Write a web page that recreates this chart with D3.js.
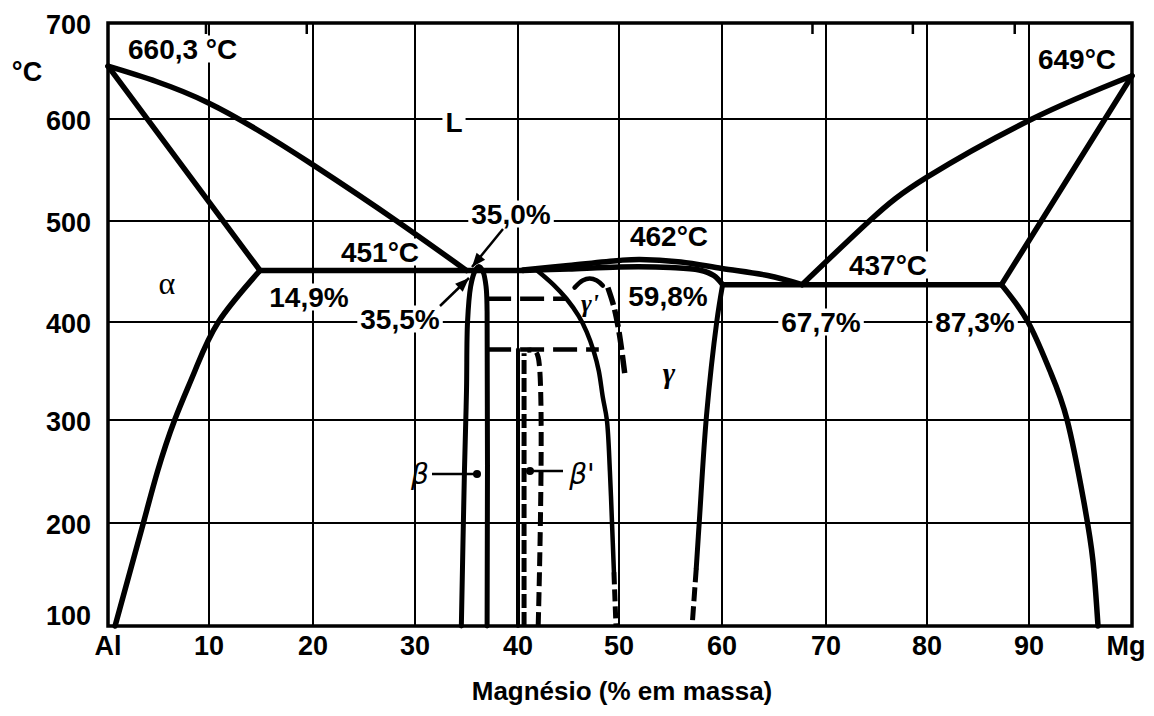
<!DOCTYPE html>
<html><head><meta charset="utf-8">
<script src="https://cdnjs.cloudflare.com/ajax/libs/d3/7.8.5/d3.min.js"></script>
<style>body{margin:0;background:#fff}svg{display:block}</style>
</head><body>
<script>
// ---- data (Mg wt%, °C) ----
const xTickValues = [0,10,20,30,40,50,60,70,80,90,100];
const xTickLabels = ["Al","10","20","30","40","50","60","70","80","90","Mg"];
const yTickValues = [100,200,300,400,500,600,700];
const yTickLabels = ["100","200","300","400","500","600","700"];
const topMarks = [9.7,19.4,68.7,78.6,88.6];

const liquidusAl = [[0,655],[9.9,617],[20,555],[28.2,500],[35,451]];
const solidusAl = [[0,655],[14.9,451]];
const solvusAl = [[14.9,451],[10.9,400],[8.6,350],[6.6,300],[4.9,250],[3.5,200],[0.7,100]];
const eutecticAl = [[14.9,451],[40.5,451]];
const betaPhase = [[34.5,100],[34.8,250],[35.0,330],[35.1,400],[35.4,435],[35.8,450],[36.2,455],[36.6,450],[36.9,435],[37.0,410],[37.0,100]];
const liquidusMid = [[40.5,451.5],[45,456],[50,461],[52,462],[56,459.5],[60,453],[64.4,446],[67.7,437]];
const solidusGamma = [[40.5,451],[45,452.5],[50,454.5],[55,454],[57.8,451.5],[59.2,446],[60.06,437]];
const gammaRight = [[60.06,437],[59.5,401],[58.5,305],[57.8,202],[57.5,156]];
const gammaRightDash = [[57.5,156],[57.1,100]];
const gammaLeft = [[41.9,451],[43.5,437],[44.8,423],[46,406],[46.8,390],[47.5,370],[48.0,350],[48.4,323],[48.8,300],[49.1,250],[49.3,202],[49.5,152]];
const gammaLeftDash = [[49.5,152],[49.7,100]];
const dashUpper = [[37.0,423],[44.8,423]];
const dashLower = [[37.0,372],[48.0,372]];
const betaPrimeSolid = [[40.0,100],[40.0,372]];
const betaPrimeLeft = [[40.6,100],[40.6,368]];
const betaPrimeRight = [[42.0,100],[42.0,364],[41.6,371],[40.9,371]];
const gammaPrimeArc = [[45.6,434],[46.4,441],[47.1,443],[47.8,441],[48.4,436]];
const gammaPrimeRight = [[48.9,434],[49.5,415],[50.0,390],[50.6,344]];
const liquidusMg = [[67.7,437],[74.4,501],[80,543],[90.3,600],[100,645]];
const solidusMg = [[100,645],[87.3,437]];
const solvusMg = [[87.3,437],[89.9,400],[92.0,351],[93.7,300],[95.3,222],[96.2,164],[96.7,100]];
const eutecticMg = [[60.06,437],[87.3,437]];

// ---- drawing ----
const W = 1154, H = 716;
const svg = d3.select("body").append("svg").attr("width", W).attr("height", H);
const x = d3.scaleLinear().domain(xTickValues).range([108,209,313,415,518,619,722,826,927,1029,1132]);
const y = d3.scaleLinear().domain(yTickValues).range([626,523,420,322,221,119,23]);
const FONT = "'Liberation Sans', Arial, Helvetica, sans-serif";

// gridlines
const grid = svg.append("g").attr("stroke","#000").attr("stroke-width",2);
xTickValues.slice(1,-1).forEach(v => grid.append("line")
  .attr("x1",x(v)).attr("x2",x(v)).attr("y1",y(700)).attr("y2",y(100)));
yTickValues.slice(1,-1).forEach(v => grid.append("line")
  .attr("x1",x(0)).attr("x2",x(100)).attr("y1",y(v)).attr("y2",y(v)));
topMarks.forEach(v => grid.append("line").attr("stroke-width",2.5)
  .attr("x1",x(v)).attr("x2",x(v)).attr("y1",y(700)).attr("y2",y(700)+11));

// annotation labels (white boxes hide the grid)
const labels = [
  {t:"660,3 °C", x:128, y:49, a:"start"},
  {t:"649°C", x:1077, y:59, a:"middle"},
  {t:"L", x:454, y:122, a:"middle"},
  {t:"35,0%", x:511, y:214, a:"middle"},
  {t:"451°C", x:380, y:252, a:"middle"},
  {t:"462°C", x:669, y:236, a:"middle"},
  {t:"437°C", x:888, y:265, a:"middle"},
  {t:"14,9%", x:309, y:297, a:"middle"},
  {t:"59,8%", x:668, y:296, a:"middle"},
  {t:"35,5%", x:400, y:319, a:"middle"},
  {t:"67,7%", x:821, y:322, a:"middle"},
  {t:"87,3%", x:975, y:322, a:"middle"}
];
const lg = svg.append("g");
const texts = labels.map(l => svg.append("text").attr("x",l.x).attr("y",l.y).attr("text-anchor",l.a)
    .attr("dominant-baseline","central").attr("font-family",FONT).attr("font-weight","bold")
    .attr("font-size",28).attr("fill","#000").text(l.t));
texts.forEach(t => {
  const b = t.node().getBBox();
  lg.append("rect").attr("x",b.x-3).attr("y",b.y+2).attr("width",b.width+6).attr("height",b.height-4).attr("fill","#fff");
});

// curves
const lineCR = d3.line().x(d => x(d[0])).y(d => y(d[1])).curve(d3.curveCatmullRom.alpha(0.5));
const lineSm = d3.line().x(d => x(d[0])).y(d => y(d[1])).curve(d3.curveNatural);
const curves = svg.append("g").attr("fill","none").attr("stroke","#000").attr("stroke-linejoin","round");
function draw(data, w, dash, cap, gen){
  const p = curves.append("path").attr("d", (gen || lineCR)(data)).attr("stroke-width", w).attr("stroke-linecap", cap || "round");
  if (dash) p.attr("stroke-dasharray", dash);
  return p;
}
draw(liquidusAl,5.5,null,null,lineSm); draw(solidusAl,5.5); draw(solvusAl,5.5,null,null,lineSm); draw(eutecticAl,5.5);
draw(betaPhase,5); draw(liquidusMid,5.5); draw(solidusGamma,5.5);
draw(gammaRight,5); draw(gammaRightDash,5,"14,5","butt");
draw(gammaLeft,4.5); draw(gammaLeftDash,5,"12,5","butt");
draw(dashUpper,4.5,"24,9","butt"); draw(dashLower,4.5,"24,9","butt");
draw(betaPrimeSolid,4); draw(betaPrimeLeft,5,"14,4","butt"); draw(betaPrimeRight,5,"14,6","butt");
draw(gammaPrimeArc,4.5); draw(gammaPrimeRight,5.5,"18,5","butt");
draw(liquidusMg,5.5,null,null,lineSm); draw(solidusMg,5.5); draw(solvusMg,5.5,null,null,lineSm); draw(eutecticMg,5.5);

// frame
svg.append("rect").attr("x",x(0)).attr("y",y(700)).attr("width",x(100)-x(0)).attr("height",y(100)-y(700))
  .attr("fill","none").attr("stroke","#000").attr("stroke-width",3.5);

// arrows
function arrow(x1,y1,x2,y2){
  svg.append("line").attr("x1",x1).attr("y1",y1).attr("x2",x2).attr("y2",y2).attr("stroke","#000").attr("stroke-width",2.5);
  const ang = Math.atan2(y2-y1,x2-x1), L=14, Wd=5.5;
  const bx = x2 - L*Math.cos(ang), by = y2 - L*Math.sin(ang);
  svg.append("path").attr("d",`M${x2},${y2}L${bx+Wd*Math.sin(ang)},${by-Wd*Math.cos(ang)}L${bx-Wd*Math.sin(ang)},${by+Wd*Math.cos(ang)}Z`).attr("fill","#000");
}
arrow(503,229,472,267);
arrow(440,306,469,278);

// phase labels
const greek = (t,px,py,fs,style,fam,wt) => svg.append("text").attr("x",px).attr("y",py).attr("text-anchor","middle")
  .attr("dominant-baseline","central").attr("font-family",fam).attr("font-style",style)
  .attr("font-weight",wt||"normal").attr("font-size",fs).text(t);
greek("α",167,283,32,"normal","'Liberation Serif', serif");
greek("γ",669,372,30,"italic","'Liberation Serif', serif","bold");
greek("γ'",590,303,26,"italic","'Liberation Serif', serif","bold");
greek("β",420,474,28,"italic","'DejaVu Sans', sans-serif");
greek("β'",582,474,28,"italic","'DejaVu Sans', sans-serif");
svg.append("line").attr("x1",432).attr("x2",477).attr("y1",474).attr("y2",474).attr("stroke","#000").attr("stroke-width",2.5);
svg.append("circle").attr("cx",477).attr("cy",474).attr("r",4).attr("fill","#000");
svg.append("line").attr("x1",530).attr("x2",563).attr("y1",471).attr("y2",471).attr("stroke","#000").attr("stroke-width",2.5);
svg.append("circle").attr("cx",530).attr("cy",471).attr("r",4).attr("fill","#000");

// axes labels
const tickG = svg.append("g").attr("font-family",FONT).attr("font-weight","bold").attr("font-size",27);
yTickValues.forEach((v,i) => tickG.append("text").attr("x",91).attr("y", v===100 ? y(v)-10 : y(v)+2)
  .attr("text-anchor","end").attr("dominant-baseline","central").text(yTickLabels[i]));
tickG.append("text").attr("x",27).attr("y",72).attr("text-anchor","middle").attr("dominant-baseline","central").text("°C");
xTickValues.forEach((v,i) => tickG.append("text").attr("x", v===100 ? x(v)-6 : x(v)).attr("y",646)
  .attr("text-anchor","middle").attr("dominant-baseline","central").text(xTickLabels[i]));
svg.append("text").attr("x",622).attr("y",691).attr("text-anchor","middle").attr("dominant-baseline","central")
  .attr("font-family",FONT).attr("font-weight","bold").attr("font-size",26).text("Magnésio (% em massa)");
</script>
</body></html>
